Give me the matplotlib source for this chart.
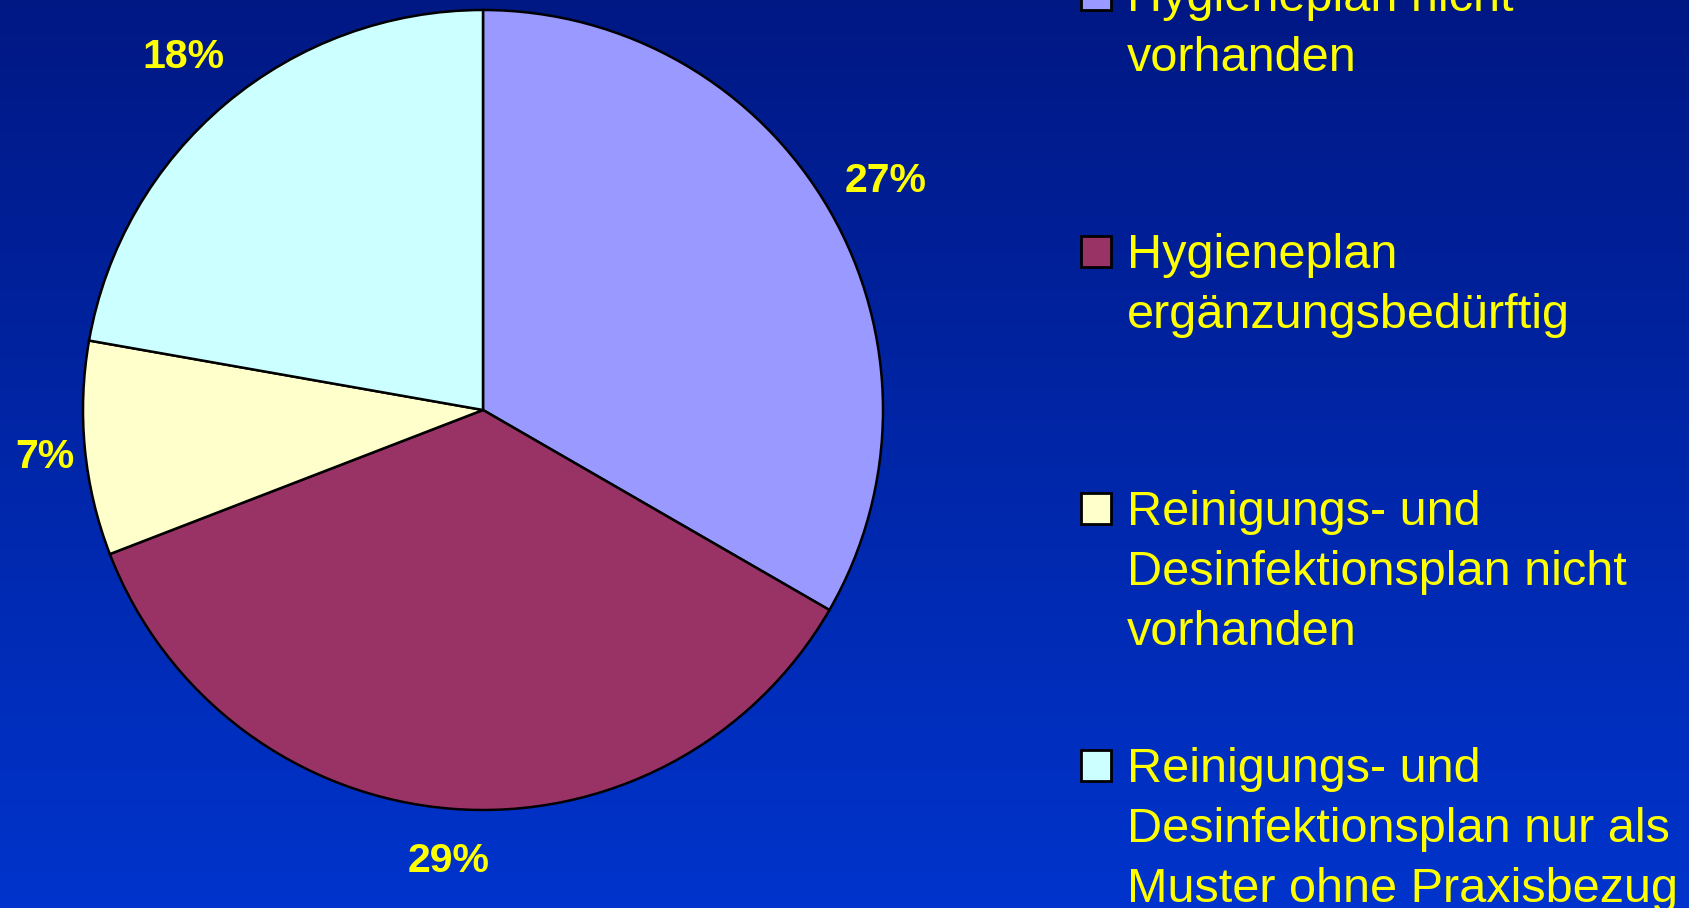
import matplotlib
matplotlib.use('Agg')
import matplotlib.pyplot as plt
import numpy as np
from matplotlib.patches import Rectangle

# ---- data ----
categories = [
    "Hygieneplan nicht\nvorhanden",
    "Hygieneplan\nergänzungsbedürftig",
    "Reinigungs- und\nDesinfektionsplan nicht\nvorhanden",
    "Reinigungs- und\nDesinfektionsplan nur als\nMuster ohne Praxisbezug",
]
values = [27, 29, 7, 18]
pct_labels = ["27%", "29%", "7%", "18%"]
colors = ["#9999FF", "#993366", "#FFFFCC", "#CCFFFF"]

# ---- layout / style ----
W, H = 1690, 908
label_dist = [1.163, 1.122, 1.10, 1.165]
yellow = "#FFFF00"
font = ["Liberation Sans", "DejaVu Sans"]

fig = plt.figure(figsize=(W / 100, H / 100), dpi=100)
ax = fig.add_axes([0, 0, 1, 1])

# background gradient
grad = np.linspace(0, 1, 256)[:, None, None]
top = np.array([0, 24, 132]) / 255
bot = np.array([0, 52, 204]) / 255
img = top + (bot - top) * grad
ax.imshow(img, extent=[0, W, 0, H], origin='upper', aspect='auto', zorder=0)

cx, cy, R = 483, H - 410, 400
wedges, texts = ax.pie(
    values, labels=pct_labels, colors=colors, startangle=90, counterclock=False,
    center=(cx, cy), radius=R, labeldistance=1.1,
    wedgeprops=dict(edgecolor='black', linewidth=1.8),
    textprops=dict(color=yellow, fontsize=29.5, fontweight='bold', family=font),
)
ax.set_xlim(0, W)
ax.set_ylim(0, H)
ax.set_aspect('auto')
ax.axis('off')

for w, t, d in zip(wedges, texts, label_dist):
    th = np.deg2rad((w.theta1 + w.theta2) / 2)
    t.set_ha('center')
    t.set_va('baseline')
    t.set_position((cx + d * R * np.cos(th), cy + d * R * np.sin(th) - 15))

# legend drawn manually
box_x, box_w, box_h = 1081, 30, 31
text_x = 1127
first_base, entry_step, line_step = 11, 257, 60
for i, (lab, col) in enumerate(zip(categories, colors)):
    base = first_base + i * entry_step
    ax.add_patch(Rectangle((box_x, H - base + 1), box_w, box_h, facecolor=col,
                           edgecolor='black', lw=2, zorder=5))
    for k, line in enumerate(lab.split('\n')):
        ax.text(text_x, H - (base + k * line_step), line, color=yellow,
                fontsize=35, family=font, va='baseline', ha='left', zorder=6)

fig.savefig('out.png', dpi=100)
